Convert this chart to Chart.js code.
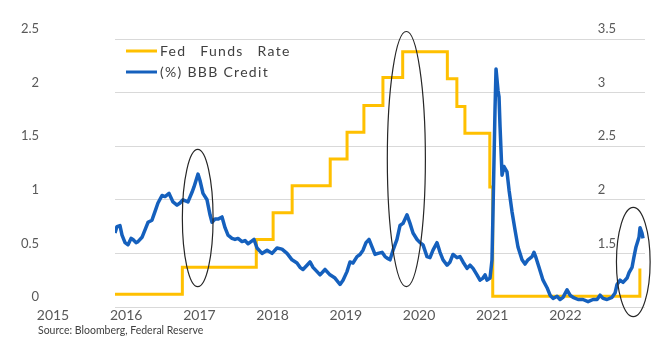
<!DOCTYPE html>
<html>
<head>
<meta charset="utf-8">
<script src="https://cdn.jsdelivr.net/npm/chart.js@4.4.0/dist/chart.umd.min.js"></script>
<style>
  html, body { margin: 0; padding: 0; background: #fff; }
  #wrap { width: 672px; height: 342px; }
</style>
</head>
<body>
<div id="wrap"><canvas id="grafico"></canvas></div>
<script>
// year labels under the chart
var anios = [2015, 2016, 2017, 2018, 2019, 2020, 2021, 2022];

// fed funds rate (left axis): date of each change, value from that date on
var fedFechas = [2015.0, 2015.92, 2016.93, 2017.16, 2017.42, 2017.94, 2018.17, 2018.40,
                 2018.66, 2018.93, 2019.54, 2019.67, 2019.78, 2020.12, 2020.16, 2022.17];
var fedValores = [0.12, 0.37, 0.63, 0.88, 1.13, 1.38, 1.63, 1.88,
                  2.14, 2.38, 2.13, 1.87, 1.62, 1.12, 0.10, 0.36];

// BBB credit (right axis)
var bbbFechas = [
  2015.000, 2015.027, 2015.068, 2015.096, 2015.137, 2015.178, 2015.219, 2015.246, 2015.287, 2015.314,
  2015.369, 2015.410, 2015.451, 2015.505, 2015.546, 2015.587, 2015.642, 2015.683, 2015.738, 2015.792,
  2015.847, 2015.888, 2015.929, 2015.997, 2016.052, 2016.079, 2016.134, 2016.161, 2016.202, 2016.257,
  2016.298, 2016.325, 2016.366, 2016.407, 2016.462, 2016.503, 2016.544, 2016.598, 2016.639, 2016.680,
  2016.735, 2016.776, 2016.817, 2016.858, 2016.899, 2016.940, 2017.008, 2017.077, 2017.145, 2017.213,
  2017.281, 2017.350, 2017.418, 2017.486, 2017.527, 2017.568, 2017.623, 2017.664, 2017.705, 2017.760,
  2017.801, 2017.869, 2017.937, 2018.005, 2018.074, 2018.115, 2018.169, 2018.210, 2018.251, 2018.306,
  2018.347, 2018.388, 2018.429, 2018.470, 2018.511, 2018.552, 2018.593, 2018.648, 2018.689, 2018.730,
  2018.757, 2018.798, 2018.852, 2018.893, 2018.934, 2018.989, 2019.030, 2019.071, 2019.126, 2019.167,
  2019.208, 2019.262, 2019.303, 2019.344, 2019.399, 2019.440, 2019.481, 2019.536, 2019.577, 2019.617,
  2019.672, 2019.713, 2019.754, 2019.809, 2019.850, 2019.891, 2019.945, 2019.986, 2020.027, 2020.055,
  2020.082, 2020.123, 2020.150, 2020.164, 2020.191, 2020.205, 2020.232, 2020.246, 2020.260, 2020.287,
  2020.314, 2020.355, 2020.383, 2020.423, 2020.464, 2020.505, 2020.560, 2020.601, 2020.642, 2020.697,
  2020.724, 2020.751, 2020.792, 2020.847, 2020.902, 2020.943, 2020.984, 2021.038, 2021.079, 2021.120,
  2021.175, 2021.216, 2021.257, 2021.325, 2021.393, 2021.462, 2021.530, 2021.585, 2021.626, 2021.667,
  2021.721, 2021.790, 2021.831, 2021.858, 2021.899, 2021.940, 2021.995, 2022.022, 2022.063, 2022.090,
  2022.117, 2022.158, 2022.172, 2022.199, 2022.213
];
var bbbValores = [
  1.69, 1.75, 1.76, 1.67, 1.60, 1.58, 1.64, 1.63, 1.60, 1.61,
  1.65, 1.72, 1.79, 1.81, 1.89, 1.97, 2.04, 2.03, 2.06, 1.98,
  1.95, 1.97, 2.00, 1.98, 2.07, 2.12, 2.24, 2.18, 2.06, 2.00,
  1.86, 1.79, 1.82, 1.82, 1.84, 1.74, 1.67, 1.64, 1.63, 1.64,
  1.61, 1.62, 1.59, 1.61, 1.63, 1.55, 1.50, 1.53, 1.50, 1.55,
  1.54, 1.50, 1.44, 1.41, 1.37, 1.35, 1.39, 1.42, 1.37, 1.33,
  1.30, 1.35, 1.30, 1.27, 1.21, 1.25, 1.33, 1.42, 1.41, 1.47,
  1.49, 1.53, 1.60, 1.63, 1.56, 1.49, 1.50, 1.51, 1.47, 1.45,
  1.44, 1.53, 1.63, 1.76, 1.78, 1.86, 1.78, 1.69, 1.63, 1.60,
  1.58, 1.47, 1.46, 1.53, 1.60, 1.51, 1.44, 1.39, 1.42, 1.49,
  1.46, 1.47, 1.42, 1.36, 1.39, 1.36, 1.30, 1.25, 1.27, 1.30,
  1.25, 1.27, 1.44, 1.90, 2.84, 3.22, 3.02, 2.96, 2.68, 2.23,
  2.31, 2.26, 2.09, 1.89, 1.72, 1.56, 1.44, 1.40, 1.44, 1.47,
  1.51, 1.46, 1.37, 1.25, 1.18, 1.11, 1.08, 1.10, 1.07, 1.09,
  1.16, 1.11, 1.09, 1.07, 1.07, 1.05, 1.07, 1.07, 1.11, 1.08,
  1.07, 1.09, 1.13, 1.21, 1.25, 1.23, 1.27, 1.32, 1.37, 1.47,
  1.56, 1.65, 1.74, 1.69, 1.64
];

// hand drawn circles (centre and radius in axis units: years / left axis)
var elipseX = [2016.13, 2018.98, 2022.08];
var elipseY = [0.83, 1.38, 0.42];
var elipseRx = [0.21, 0.26, 0.23];
var elipseRy = [0.64, 1.19, 0.51];

var fuente = 'Source: Bloomberg, Federal Reserve';

function puntos(fechas, valores) {
    return fechas.map(function (f, i) { return { x: f, y: valores[i] }; });
}

var extras = {
    id: 'extras',
    afterDraw: function (chart) {
        var ctx = chart.ctx;
        var sx = chart.scales.x, sy = chart.scales.y, area = chart.chartArea;
        ctx.save();

        // circles
        ctx.strokeStyle = '#262626';
        ctx.lineWidth = 1.2;
        for (var i = 0; i < elipseX.length; i++) {
            var cx = sx.getPixelForValue(elipseX[i]);
            var cy = sy.getPixelForValue(elipseY[i]);
            var rx = sx.getPixelForValue(elipseX[i] + elipseRx[i]) - cx;
            var ry = cy - sy.getPixelForValue(elipseY[i] + elipseRy[i]);
            ctx.beginPath();
            ctx.ellipse(cx, cy, rx, ry, 0, 0, Math.PI * 2);
            ctx.stroke();
        }

        // legend inside the plot
        ctx.font = '14px Lato';
        ctx.textBaseline = 'middle';
        ctx.letterSpacing = '1.3px';
        chart.data.datasets.forEach(function (ds, j) {
            var ly = area.top + 12 + j * 21;
            ctx.strokeStyle = ds.borderColor;
            ctx.lineWidth = 3;
            ctx.beginPath();
            ctx.moveTo(area.left + 11, ly);
            ctx.lineTo(area.left + 42, ly);
            ctx.stroke();
            ctx.fillStyle = '#404040';
            ctx.wordSpacing = j === 0 ? '9px' : '0px';
            ctx.fillText(ds.label, area.left + 45, ly);
        });

        // source line
        ctx.letterSpacing = '0px';
        ctx.wordSpacing = '0px';
        ctx.font = '10.5px Lato';
        ctx.fillStyle = '#404040';
        ctx.textBaseline = 'alphabetic';
        ctx.fillText(fuente, 38, 334);
        ctx.restore();
    }
};

var ctx = document.getElementById('grafico').getContext('2d');
new Chart(ctx, {
    type: 'line',
    data: {
        datasets: [{
            label: 'Fed Funds Rate',
            data: puntos(fedFechas, fedValores),
            yAxisID: 'y',
            borderColor: '#FFC000',
            borderWidth: 3,
            pointRadius: 0,
            stepped: 'before',
            fill: false,
            order: 1
        }, {
            label: '(%) BBB Credit',
            data: puntos(bbbFechas, bbbValores),
            yAxisID: 'y1',
            borderColor: '#1560BD',
            borderWidth: 3.5,
            pointRadius: 0,
            tension: 0,
            borderJoinStyle: 'round',
            fill: false,
            order: 0
        }]
    },
    options: {
        responsive: true,
        maintainAspectRatio: false,
        animation: false,
        events: [],
        layout: { padding: { top: 39, left: 0, right: 0, bottom: 0 } },
        plugins: {
            legend: { display: false },
            tooltip: { enabled: false }
        },
        scales: {
            x: {
                type: 'linear',
                min: 2015,
                max: 2022.24,
                grid: { display: false, drawTicks: false },
                border: { display: false },
                afterBuildTicks: function (s) { s.ticks = anios.map(function (a) { return { value: a }; }); },
                afterFit: function (s) { s.height = 35; },
                ticks: {
                    autoSkip: false,
                    maxRotation: 0,
                    padding: 0,
                    labelOffset: -62,
                    color: '#595959',
                    font: { family: 'Lato', size: 14 },
                    callback: function (v) { return String(v); }
                }
            },
            y: {
                position: 'left',
                min: 0,
                max: 2.5,
                grid: { color: '#D9D9D9', lineWidth: 1, drawTicks: false },
                border: { display: false },
                afterFit: function (s) { s.width = 115; },
                ticks: {
                    stepSize: 0.5,
                    mirror: true,
                    crossAlign: 'far',
                    padding: -94,
                    labelOffset: -10,
                    color: '#595959',
                    font: { family: 'Lato', size: 13 },
                    callback: function (v) { return String(v); }
                }
            },
            y1: {
                position: 'right',
                min: 1,
                max: 3.5,
                grid: { display: false, drawTicks: false },
                border: { display: false },
                afterFit: function (s) { s.width = 27; },
                ticks: {
                    stepSize: 0.5,
                    mirror: true,
                    crossAlign: 'far',
                    padding: -29,
                    labelOffset: -10,
                    color: '#595959',
                    font: { family: 'Lato', size: 13 },
                    callback: function (v) { return v === 1 ? '' : String(v); }
                }
            }
        }
    },
    plugins: [extras]
});
</script>
</body>
</html>
